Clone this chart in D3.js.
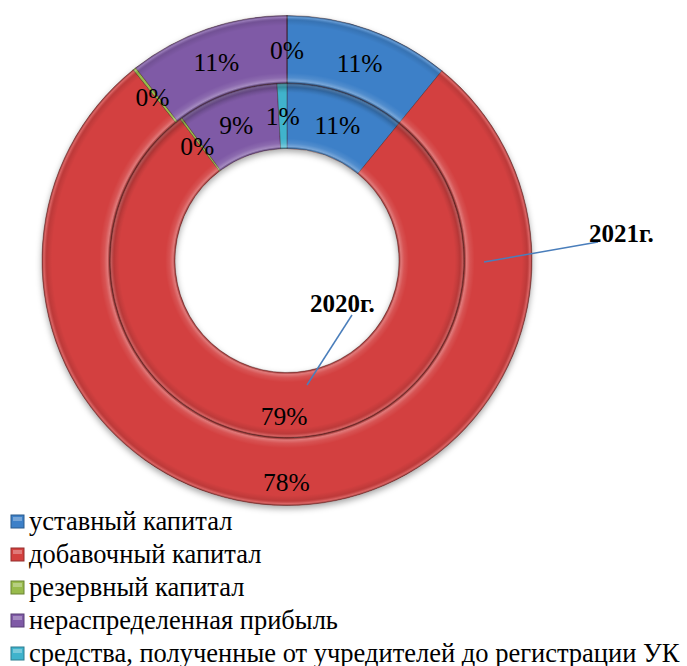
<!DOCTYPE html>
<html>
<head>
<meta charset="utf-8">
<script src="https://cdn.jsdelivr.net/npm/d3@7"></script>
<style>
  body { margin: 0; background: #fff; }
</style>
</head>
<body>
<div id="chart"></div>
<script>
// categories and series values (percent of equity)
var categories = ["уставный капитал", "добавочный капитал", "резервный капитал",
                  "нераспределенная прибыль", "средства, полученные от учредителей до регистрации УК"];
var values2020 = [10.9, 78.8, 0.2, 9.2, 0.9];
var values2021 = [10.9, 78.3, 0.2, 10.6, 0.0];
var seriesNames = ["2020г.", "2021г."];
var colors = ["#3d80c8", "#d3413f", "#98bb4c", "#7f5aa6", "#3fb3cc"];

var width = 687, height = 666;
var cx = 287, cy = 260.5;
var rHole = 112, rMid = 177.5, rOuter = 245;
var fontStack = "'Liberation Serif', 'Times New Roman', Tinos, 'DejaVu Serif', serif";

var svg = d3.select("#chart").append("svg")
    .attr("width", width)
    .attr("height", height)
    .style("font-family", fontStack);

var defs = svg.append("defs");

// soft shadow under the rings
var shadow = defs.append("filter").attr("id", "shadow")
    .attr("x", "-10%").attr("y", "-10%").attr("width", "120%").attr("height", "125%");
shadow.append("feDropShadow")
    .attr("dx", 0).attr("dy", 3).attr("stdDeviation", 3)
    .attr("flood-color", "#000").attr("flood-opacity", 0.35);

// bevel shading: radial gradient over each ring
function bevel(id, r0, r1) {
    var g = defs.append("radialGradient").attr("id", id)
        .attr("gradientUnits", "userSpaceOnUse")
        .attr("cx", 0).attr("cy", 0).attr("r", r1);
    var f = function(t) { return (r0 + (r1 - r0) * t) / r1; };
    var stops = [
        [0, "#000", 0.30], [0.03, "#fff", 0.30], [0.08, "#fff", 0.10], [0.15, "#fff", 0],
        [0.85, "#000", 0], [0.93, "#000", 0.10], [0.97, "#fff", 0.18], [1, "#000", 0.35]
    ];
    stops.forEach(function(s) {
        g.append("stop").attr("offset", f(s[0])).attr("stop-color", s[1]).attr("stop-opacity", s[2]);
    });
}
bevel("bevelInner", rHole, rMid);
bevel("bevelOuter", rMid, rOuter);

var pie = d3.pie().sort(null).value(function(d) { return d; });

var g = svg.append("g").attr("transform", "translate(" + cx + "," + cy + ")");

function drawRing(vals, r0, r1, gradId, labelR) {
    var arc = d3.arc().innerRadius(r0).outerRadius(r1);
    var labelArc = d3.arc().innerRadius(labelR).outerRadius(labelR);
    var ring = g.append("g").attr("filter", "url(#shadow)");
    var arcs = pie(vals);
    ring.selectAll("path.slice")
        .data(arcs)
        .enter().append("path")
        .attr("class", "slice")
        .attr("d", arc)
        .attr("fill", function(d, i) { return colors[i]; })
        .attr("stroke", "rgba(60,20,20,0.45)")
        .attr("stroke-width", 0.8);
    g.selectAll(null)
        .data(arcs)
        .enter().append("path")
        .attr("d", arc)
        .attr("fill", "url(#" + gradId + ")")
        .attr("pointer-events", "none");
    return { arcs: arcs, labelArc: labelArc };
}

var inner = drawRing(values2020, rHole, rMid, "bevelInner", 150);
var outer = drawRing(values2021, rMid, rOuter, "bevelOuter", 216);

// data labels
[inner, outer].forEach(function(r) {
    g.selectAll(null)
        .data(r.arcs)
        .enter().append("text")
        .attr("transform", function(d) {
            var c = r.labelArc.centroid(d);
            return "translate(" + c[0] + "," + (c[1] + 6) + ")";
        })
        .attr("text-anchor", "middle")
        .attr("dy", "0.35em")
        .attr("font-family", fontStack)
        .attr("font-size", 25.5)
        .attr("fill", "#000")
        .text(function(d) { return Math.round(d.data) + "%"; });
});

// series name callouts
var callouts = [
    { name: seriesNames[0], from: [20, 124.5], to: [65, 54.5], text: [23, 51.5] },
    { name: seriesNames[1], from: [197, 1.5], to: [311, -18.5], text: [302, -18.5] }
];
callouts.forEach(function(c) {
    g.append("line")
        .attr("x1", c.from[0]).attr("y1", c.from[1])
        .attr("x2", c.to[0]).attr("y2", c.to[1])
        .attr("stroke", "#4a7ebb").attr("stroke-width", 1.5);
    g.append("text")
        .attr("x", c.text[0]).attr("y", c.text[1])
        .attr("font-family", fontStack)
        .attr("font-size", 25)
        .attr("font-weight", "bold")
        .text(c.name);
});

// legend
var legend = svg.append("g").attr("transform", "translate(11,515)");
var rowH = 33;
categories.forEach(function(name, i) {
    var row = legend.append("g").attr("transform", "translate(0," + (i * rowH) + ")");
    row.append("rect")
        .attr("width", 13).attr("height", 13)
        .attr("fill", colors[i])
        .attr("stroke", d3.color(colors[i]).darker(1))
        .attr("stroke-width", 1);
    row.append("rect")
        .attr("x", 2).attr("y", 2).attr("width", 9).attr("height", 4)
        .attr("fill", "#fff").attr("opacity", 0.3);
    row.append("text")
        .attr("x", 18).attr("y", 15)
        .attr("font-family", fontStack)
        .attr("font-size", 26.5)
        .text(name);
});
</script>
</body>
</html>
